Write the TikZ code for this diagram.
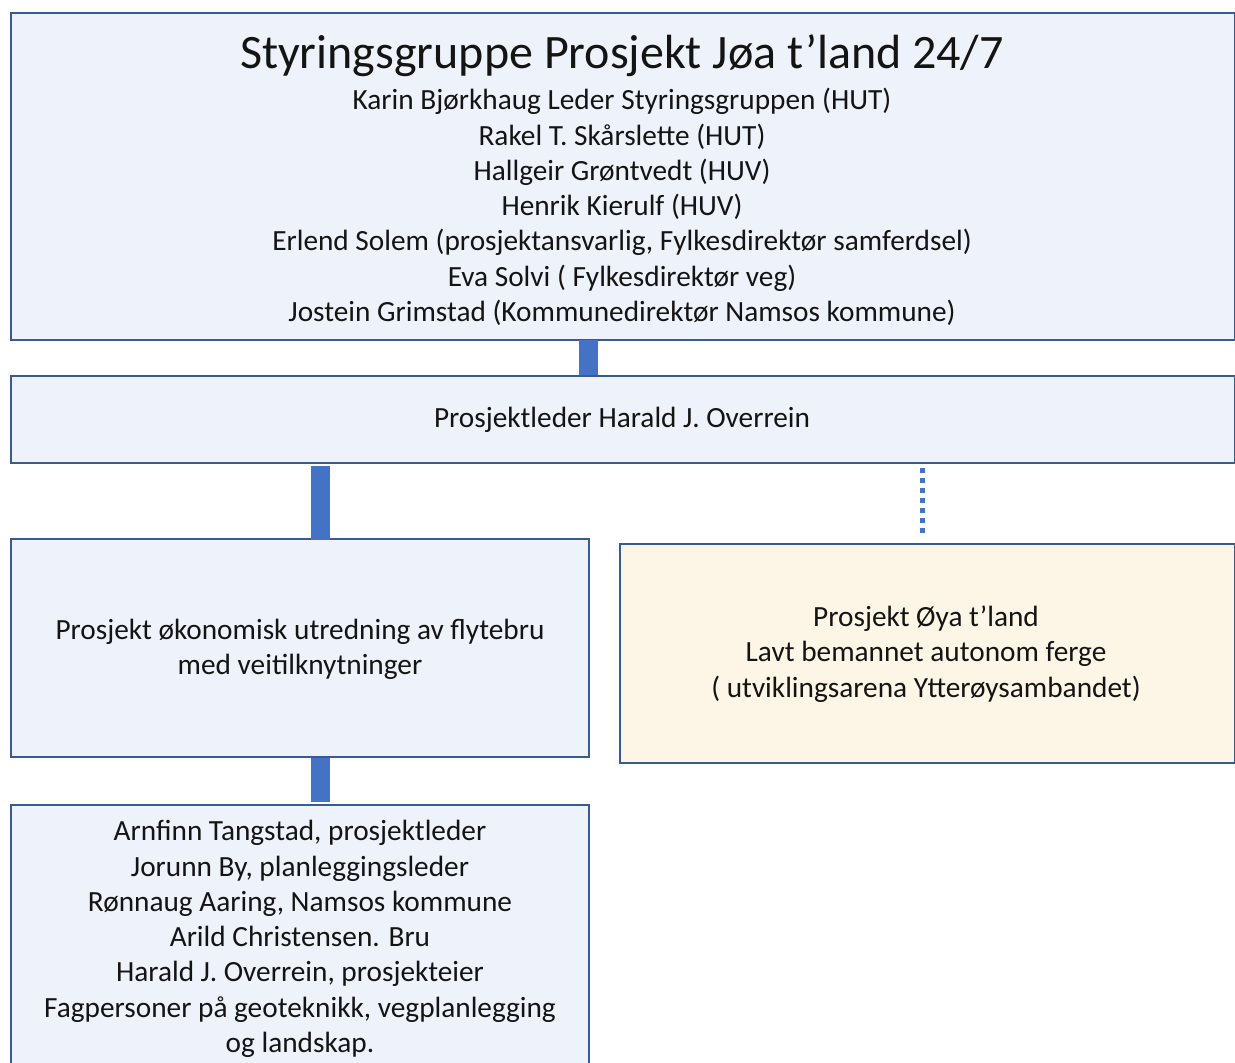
\documentclass[tikz,border=0pt]{standalone}
\usepackage{fontspec}
\setmainfont{Carlito}
\definecolor{bordc}{HTML}{3A5A94}
\definecolor{boxfill}{HTML}{EEF3FB}
\definecolor{yelfill}{HTML}{FDF6E7}
\definecolor{barc}{HTML}{4472C4}
\begin{document}
\begin{tikzpicture}[x=1pt,y=-1pt,
  box/.style={draw=bordc, line width=2.2pt, fill=boxfill, anchor=north west, inner sep=0pt},
  ybox/.style={box, fill=yelfill},
  txt/.style={align=center, inner sep=0pt, text=black!92, font=\fontsize{29.3}{35.3}\selectfont},
  ttl/.style={align=center, inner sep=0pt, text=black!92, font=\fontsize{48}{56}\selectfont},
  bar/.style={draw=barc, line width=19pt},
  dotbar/.style={draw=barc, line width=5pt, dash pattern=on 5pt off 5pt}]
\useasboundingbox (0,0) rectangle (1235,1063);
\clip (0,0) rectangle (1235,1063);
% boxes
\node[box, minimum width=1224pt, minimum height=327pt] (top) at (10,12) {};
\node[box, minimum width=1224pt, minimum height=87pt] (pl) at (10,375) {};
\node[box, minimum width=578pt, minimum height=218pt] (okon) at (10,538) {};
\node[ybox, minimum width=615pt, minimum height=219pt] (oya) at (619,543) {};
\node[box, minimum width=578pt, minimum height=280pt] (team) at (10,804) {};
% connectors
\coordinate (c1) at (588.5,340);
\coordinate (c2) at (588.5,375);
\draw[bar] (c1) -- (c2);
\coordinate (c3) at (320.5,466);
\coordinate (c4) at (320.5,540);
\draw[bar] (c3) -- (c4);
\coordinate (c5) at (922,468);
\coordinate (c6) at (922,536);
\draw[dotbar] (c5) -- (c6);
\coordinate (c7) at (320.5,758);
\coordinate (c8) at (320.5,802);
\draw[bar] (c7) -- (c8);
% texts
\node[ttl] (title) at (622,56) {Styringsgruppe Prosjekt Jøa t’land 24/7};
\node[txt] (members) at (622,207) {Karin Bjørkhaug Leder Styringsgruppen (HUT)\\
Rakel T. Skårslette (HUT)\\
Hallgeir Grøntvedt (HUV)\\
Henrik Kierulf (HUV)\\
Erlend Solem (prosjektansvarlig, Fylkesdirektør samferdsel)\\
Eva Solvi ( Fylkesdirektør veg)\\
Jostein Grimstad (Kommunedirektør Namsos kommune)};
\node[txt] (pltext) at (622,420) {Prosjektleder Harald J. Overrein};
\node[txt] (okontext) at (300,649) {Prosjekt økonomisk utredning av flytebru\\med veitilknytninger};
\node[txt] (oyatext) at (926,654) {Prosjekt Øya t’land\\Lavt bemannet autonom ferge\\( utviklingsarena Ytterøysambandet)};
\node[txt] (teamtext) at (300,939) {Arnfinn Tangstad, prosjektleder\\
Jorunn By, planleggingsleder\\
Rønnaug Aaring, Namsos kommune\\
Arild Christensen. Bru\\
Harald J. Overrein, prosjekteier\\
Fagpersoner på geoteknikk, vegplanlegging\\
og landskap.};
\end{tikzpicture}
\end{document}
